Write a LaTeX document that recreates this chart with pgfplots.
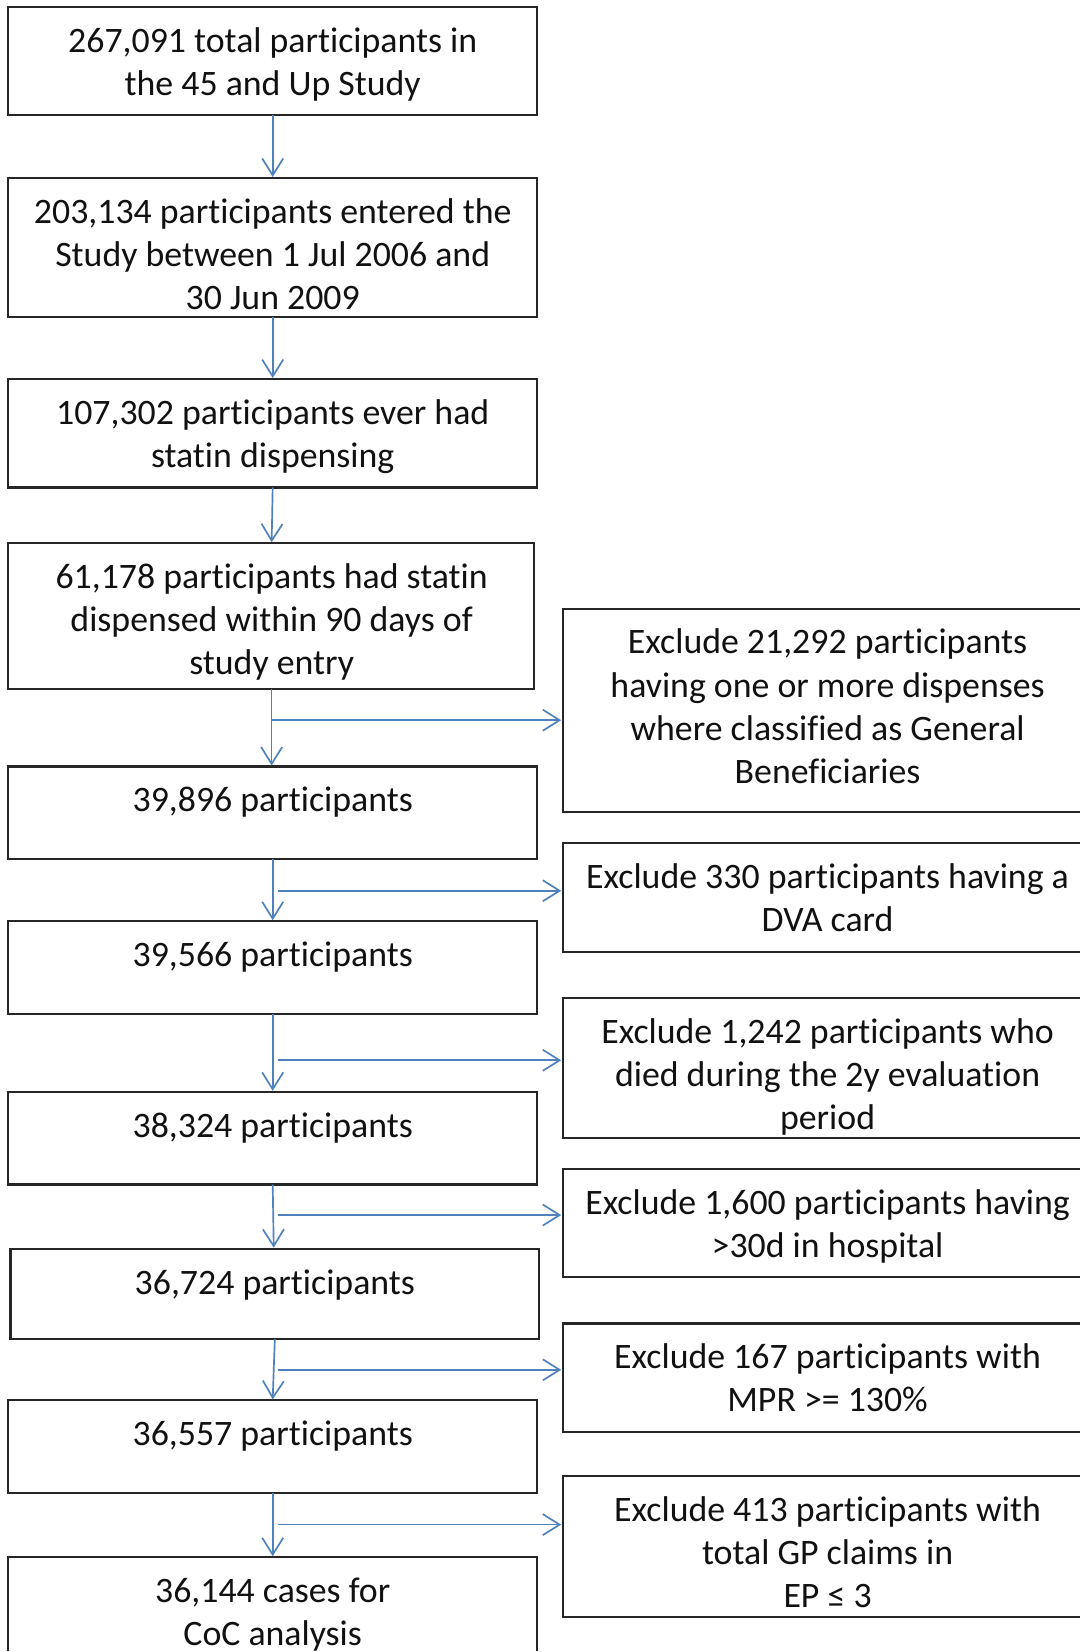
\documentclass[border=0pt]{standalone}
\usepackage{pgfplots}
\pgfplotsset{compat=1.18}
\usetikzlibrary{arrows.meta}
\usepackage{fontspec}
\setmainfont[Ligatures={NoCommon,NoRare,NoContextual},Contextuals=NoAlternate]{Carlito}
\definecolor{boxc}{HTML}{262626}
\definecolor{arrc}{HTML}{4F81BD}
\definecolor{txtc}{HTML}{111111}
\newcommand{\tline}[3]{\node[anchor=base,inner sep=0pt,text=txtc,font=\fontsize{17pt}{20.5pt}\selectfont] at (axis cs:#1,#2) {#3};}
\newcommand{\rbox}[2]{\draw[draw=boxc,line width=1pt] (axis cs:1026,#1) -- (axis cs:535,#1) -- (axis cs:535,#2) -- (axis cs:1026,#2);}
\tikzset{bx/.style={draw=boxc,line width=1pt},
  ar/.style={draw=arrc,line width=0.8pt,-{Straight Barb[length=8pt,width=10pt,line width=0.8pt]}}}
\begin{document}
\begin{tikzpicture}
\begin{axis}[x=0.5pt,y=0.5pt,y dir=reverse,xmin=0,xmax=1026,ymin=0,ymax=1568,
  hide axis,clip=false,enlargelimits=false,scale only axis]
\addplot[draw=none] coordinates {(0,0) (1026,1568)};
% left boxes
\draw[bx] (axis cs:8,7) rectangle (axis cs:510,109);
\draw[bx] (axis cs:8,169) rectangle (axis cs:510,301);
\draw[bx] (axis cs:8,360) rectangle (axis cs:510,463);
\draw[bx] (axis cs:8,516) rectangle (axis cs:507,654);
\draw[bx] (axis cs:8,728) rectangle (axis cs:510,816);
\draw[bx] (axis cs:8,875) rectangle (axis cs:510,963);
\draw[bx] (axis cs:8,1037) rectangle (axis cs:510,1125);
\draw[bx] (axis cs:10,1186) rectangle (axis cs:512,1272);
\draw[bx] (axis cs:8,1330) rectangle (axis cs:510,1418);
\draw[bx] (axis cs:8,1568) -- (axis cs:8,1479) -- (axis cs:510,1479) -- (axis cs:510,1568);
% right boxes (cut at right edge)
\rbox{578}{771}
\rbox{801}{904}
\rbox{948}{1081}
\rbox{1110}{1213}
\rbox{1257}{1360}
\rbox{1402}{1536}
% arrows
\draw[ar] (axis cs:259,109) -- (axis cs:259,168);
\draw[ar] (axis cs:259,301) -- (axis cs:259,359);
\draw[ar] (axis cs:259,463) -- (axis cs:258,515);
\draw[ar] (axis cs:258,654) -- (axis cs:258,727);
\draw[ar] (axis cs:258,684) -- (axis cs:533,684);
\draw[ar] (axis cs:259,816) -- (axis cs:259,874);
\draw[ar] (axis cs:264,846) -- (axis cs:533,846);
\draw[ar] (axis cs:259,963) -- (axis cs:259,1036);
\draw[ar] (axis cs:264,1007) -- (axis cs:533,1007);
\draw[ar] (axis cs:259,1125) -- (axis cs:260,1185);
\draw[ar] (axis cs:264,1154) -- (axis cs:533,1154);
\draw[ar] (axis cs:261,1272) -- (axis cs:259,1329);
\draw[ar] (axis cs:264,1301) -- (axis cs:533,1301);
\draw[ar] (axis cs:259,1418) -- (axis cs:259,1478);
\draw[ar] (axis cs:264,1448) -- (axis cs:533,1448);
% left texts
\tline{259}{50}{267,091 total participants in}
\tline{259}{91}{the 45 and Up Study}
\tline{259}{212}{203,134 participants entered the}
\tline{259}{253}{Study between 1 Jul 2006 and}
\tline{259}{294}{30 Jun 2009}
\tline{259}{403}{107,302 participants ever had}
\tline{259}{444}{statin dispensing}
\tline{258}{559}{61,178 participants had statin}
\tline{258}{600}{dispensed within 90 days of}
\tline{258}{641}{study entry}
\tline{259}{771}{39,896 participants}
\tline{259}{918}{39,566 participants}
\tline{259}{1080}{38,324 participants}
\tline{261}{1229}{36,724 participants}
\tline{259}{1373}{36,557 participants}
\tline{259}{1522}{36,144 cases for}
\tline{259}{1563}{CoC analysis}
% right texts
\tline{786}{621}{Exclude 21,292 participants}
\tline{786}{662}{having one or more dispenses}
\tline{786}{703}{where classified as General}
\tline{786}{744}{Beneficiaries}
\tline{786}{844}{Exclude 330 participants having a}
\tline{786}{885}{DVA card}
\tline{786}{991}{Exclude 1,242 participants who}
\tline{786}{1032}{died during the 2y evaluation}
\tline{786}{1073}{period}
\tline{786}{1153}{Exclude 1,600 participants having}
\tline{786}{1194}{>30d in hospital}
\tline{786}{1300}{Exclude 167 participants with}
\tline{786}{1341}{MPR >= 130\%}
\tline{786}{1445}{Exclude 413 participants with}
\tline{786}{1486}{total GP claims in}
\tline{786}{1527}{EP ≤ 3}
\end{axis}
\end{tikzpicture}
\end{document}
